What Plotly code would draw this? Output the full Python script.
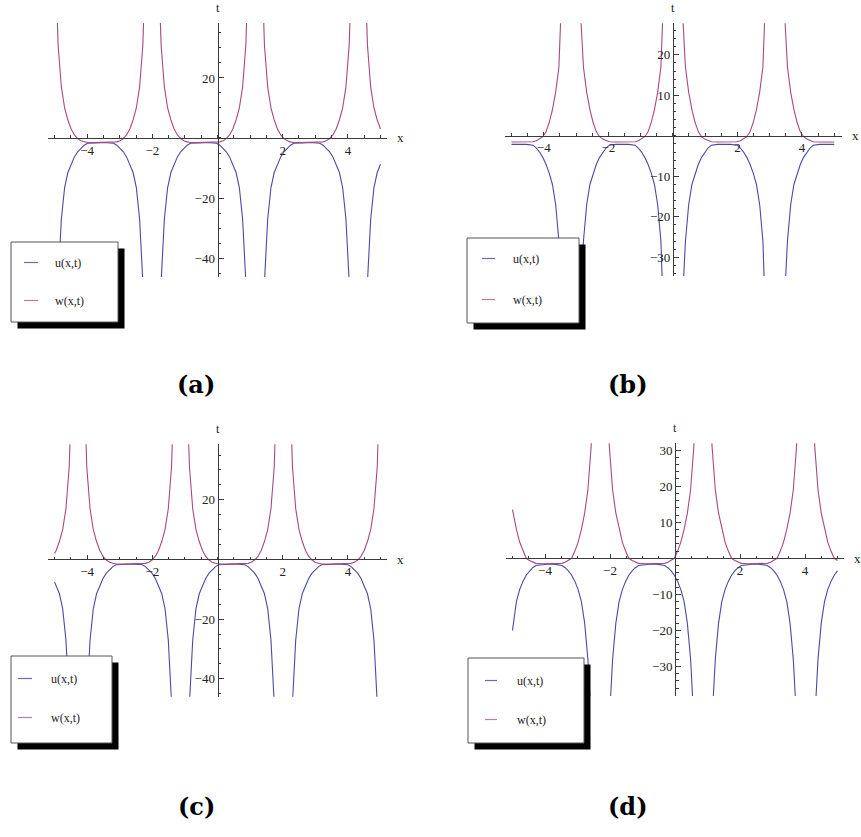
import plotly.graph_objects as go

W, H = 861, 837

# ---------------- values ----------------
# panel (a)
a_x = [-4.99, -4.89, -4.79, -4.69, -4.59, -4.49, -4.39, -4.29, -4.19, -4.09, -3.99, -3.79, -3.59,
       -3.39, -3.19, -3.09, -2.99, -2.89, -2.79, -2.69, -2.59, -2.49, -2.39, -2.29, -2.19,
       -1.83, -1.73, -1.63, -1.53, -1.43, -1.33, -1.23, -1.13, -1.03, -0.93, -0.83, -0.63, -0.43,
       -0.23, -0.03, 0.07, 0.17, 0.27, 0.37, 0.47, 0.57, 0.67, 0.77, 0.87, 0.97,
       1.34, 1.44, 1.54, 1.64, 1.74, 1.84, 1.94, 2.04, 2.14, 2.24, 2.34, 2.54, 2.74,
       2.94, 3.14, 3.24, 3.34, 3.44, 3.54, 3.64, 3.74, 3.84, 3.94, 4.04, 4.14,
       4.50, 4.60, 4.70, 4.80, 4.90, 5.00]
a_w = [65, 31, 17, 10, 6.0, 3.0, 1.0, -0.2, -0.9, -1.3, -1.5, -1.55, -1.55,
       -1.55, -1.5, -1.3, -0.9, -0.2, 1.0, 3.0, 6.0, 10, 17, 31, 65,
       65, 31, 17, 10, 6.0, 3.0, 1.0, -0.2, -0.9, -1.3, -1.5, -1.55, -1.55,
       -1.55, -1.5, -1.3, -0.9, -0.2, 1.0, 3.0, 6.0, 10, 17, 31, 65,
       65, 31, 17, 10, 6.0, 3.0, 1.0, -0.2, -0.9, -1.3, -1.5, -1.55, -1.55,
       -1.55, -1.5, -1.3, -0.9, -0.2, 1.0, 3.0, 6.0, 10, 17, 31, 65,
       65, 31, 17, 10, 6.0, 3.0]
a_u = [-85, -48, -27, -16.5, -11.5, -8.7, -6.3, -4.6, -3.4, -2.4, -1.75, -1.6, -1.6,
       -1.6, -1.75, -2.4, -3.4, -4.6, -6.3, -8.7, -11.5, -16.5, -27, -48, -85,
       -85, -48, -27, -16.5, -11.5, -8.7, -6.3, -4.6, -3.4, -2.4, -1.75, -1.6, -1.6,
       -1.6, -1.75, -2.4, -3.4, -4.6, -6.3, -8.7, -11.5, -16.5, -27, -48, -85,
       -85, -48, -27, -16.5, -11.5, -8.7, -6.3, -4.6, -3.4, -2.4, -1.75, -1.6, -1.6,
       -1.6, -1.75, -2.4, -3.4, -4.6, -6.3, -8.7, -11.5, -16.5, -27, -48, -85,
       -85, -48, -27, -16.5, -11.5, -8.7]

# panel (b)
b_x = [-5.00, -4.93, -4.73, -4.53, -4.33, -4.23, -4.13, -4.03, -3.93, -3.83, -3.73, -3.63, -3.53, -3.43, -3.33,
       -2.97, -2.87, -2.77, -2.67, -2.57, -2.47, -2.37, -2.27, -2.17, -2.07, -1.97, -1.77, -1.57,
       -1.37, -1.17, -1.07, -0.97, -0.87, -0.77, -0.67, -0.57, -0.47, -0.37, -0.27, -0.17,
       0.19, 0.29, 0.39, 0.49, 0.59, 0.69, 0.79, 0.89, 0.99, 1.09, 1.19, 1.39, 1.59,
       1.79, 1.99, 2.09, 2.19, 2.29, 2.39, 2.49, 2.59, 2.69, 2.79, 2.89, 2.99,
       3.35, 3.45, 3.55, 3.65, 3.75, 3.85, 3.95, 4.05, 4.15, 4.25, 4.35, 4.55, 4.75, 4.95, 5.00]
b_w = [-1.5, -1.5, -1.5, -1.5, -1.45, -1.2, -0.8, -0.2, 1.0, 3.3, 6.5, 10.8, 17, 32, 60,
       60, 32, 17, 10.8, 6.5, 3.3, 1.0, -0.2, -0.8, -1.2, -1.45, -1.5, -1.5,
       -1.5, -1.45, -1.2, -0.8, -0.2, 1.0, 3.3, 6.5, 10.8, 17, 32, 60,
       60, 32, 17, 10.8, 6.5, 3.3, 1.0, -0.2, -0.8, -1.2, -1.45, -1.5, -1.5,
       -1.5, -1.45, -1.2, -0.8, -0.2, 1.0, 3.3, 6.5, 10.8, 17, 32, 60,
       60, 32, 17, 10.8, 6.5, 3.3, 1.0, -0.2, -0.8, -1.2, -1.45, -1.5, -1.5, -1.5, -1.5]
b_u = [-2.1, -2.1, -2.1, -2.1, -2.3, -3.0, -4.0, -5.3, -7.0, -9.2, -12, -17, -26, -42, -75,
       -75, -42, -26, -17, -12, -9.2, -7.0, -5.3, -4.0, -3.0, -2.3, -2.1, -2.1,
       -2.1, -2.3, -3.0, -4.0, -5.3, -7.0, -9.2, -12, -17, -26, -42, -75,
       -75, -42, -26, -17, -12, -9.2, -7.0, -5.3, -4.0, -3.0, -2.3, -2.1, -2.1,
       -2.1, -2.3, -3.0, -4.0, -5.3, -7.0, -9.2, -12, -17, -26, -42, -75,
       -75, -42, -26, -17, -12, -9.2, -7.0, -5.3, -4.0, -3.0, -2.3, -2.1, -2.1, -2.1, -2.1]

# panel (c)
c_x = [-5.00, -4.95, -4.85, -4.75, -4.65, -4.55, -4.45,
       -4.11, -4.01, -3.91, -3.81, -3.71, -3.61, -3.51, -3.41, -3.31, -3.21, -3.11, -2.91, -2.71,
       -2.51, -2.31, -2.21, -2.11, -2.01, -1.91, -1.81, -1.71, -1.61, -1.51, -1.41, -1.31,
       -0.96, -0.86, -0.76, -0.66, -0.56, -0.46, -0.36, -0.26, -0.16, -0.06, 0.04, 0.24, 0.44,
       0.64, 0.84, 0.94, 1.04, 1.14, 1.24, 1.34, 1.44, 1.54, 1.64, 1.74, 1.84,
       2.20, 2.30, 2.40, 2.50, 2.60, 2.70, 2.80, 2.90, 3.00, 3.10, 3.20, 3.40, 3.60,
       3.80, 4.00, 4.10, 4.20, 4.30, 4.40, 4.50, 4.60, 4.70, 4.80, 4.90, 5.00]
c_w = [2.0, 3.0, 6.0, 10, 17, 31, 65,
       65, 31, 17, 10, 6.0, 3.0, 1.0, -0.2, -0.9, -1.3, -1.5, -1.55, -1.55,
       -1.55, -1.5, -1.3, -0.9, -0.2, 1.0, 3.0, 6.0, 10, 17, 31, 65,
       65, 31, 17, 10, 6.0, 3.0, 1.0, -0.2, -0.9, -1.3, -1.5, -1.55, -1.55,
       -1.55, -1.5, -1.3, -0.9, -0.2, 1.0, 3.0, 6.0, 10, 17, 31, 65,
       65, 31, 17, 10, 6.0, 3.0, 1.0, -0.2, -0.9, -1.3, -1.5, -1.55, -1.55,
       -1.55, -1.5, -1.3, -0.9, -0.2, 1.0, 3.0, 6.0, 10, 17, 31, 65]
c_u = [-7.5, -8.7, -11.5, -16.5, -27, -48, -85,
       -85, -48, -27, -16.5, -11.5, -8.7, -6.3, -4.6, -3.4, -2.4, -1.75, -1.6, -1.6,
       -1.6, -1.75, -2.4, -3.4, -4.6, -6.3, -8.7, -11.5, -16.5, -27, -48, -85,
       -85, -48, -27, -16.5, -11.5, -8.7, -6.3, -4.6, -3.4, -2.4, -1.75, -1.6, -1.6,
       -1.6, -1.75, -2.4, -3.4, -4.6, -6.3, -8.7, -11.5, -16.5, -27, -48, -85,
       -85, -48, -27, -16.5, -11.5, -8.7, -6.3, -4.6, -3.4, -2.4, -1.75, -1.6, -1.6,
       -1.6, -1.75, -2.4, -3.4, -4.6, -6.3, -8.7, -11.5, -16.5, -27, -48, -85]

# panel (d)
d_x = [-5.00, -4.88, -4.78, -4.68, -4.58, -4.48, -4.38, -4.28, -4.08, -3.88,
       -3.68, -3.48, -3.38, -3.28, -3.18, -3.08, -2.98, -2.88, -2.78, -2.68, -2.58, -2.48,
       -2.12, -2.02, -1.92, -1.82, -1.72, -1.62, -1.52, -1.42, -1.32, -1.22, -1.12, -0.92, -0.72,
       -0.52, -0.32, -0.22, -0.12, -0.02, 0.08, 0.18, 0.28, 0.38, 0.48, 0.58, 0.68,
       1.04, 1.14, 1.24, 1.34, 1.44, 1.54, 1.64, 1.74, 1.84, 1.94, 2.04, 2.24, 2.44,
       2.64, 2.84, 2.94, 3.04, 3.14, 3.24, 3.34, 3.44, 3.54, 3.64, 3.74, 3.84,
       4.20, 4.30, 4.40, 4.50, 4.60, 4.70, 4.80, 4.90, 5.00]
d_w = [13.5, 8.0, 4.5, 2.0, 0.0, -0.6, -1.1, -1.4, -1.5, -1.5,
       -1.5, -1.4, -1.1, -0.6, 0.0, 2.0, 4.5, 8.0, 12.5, 19, 31, 55,
       55, 31, 19, 12.5, 8.0, 4.5, 2.0, 0.0, -0.6, -1.1, -1.4, -1.5, -1.5,
       -1.5, -1.4, -1.1, -0.6, 0.0, 2.0, 4.5, 8.0, 12.5, 19, 31, 55,
       55, 31, 19, 12.5, 8.0, 4.5, 2.0, 0.0, -0.6, -1.1, -1.4, -1.5, -1.5,
       -1.5, -1.4, -1.1, -0.6, 0.0, 2.0, 4.5, 8.0, 12.5, 19, 31, 55,
       55, 31, 19, 12.5, 8.0, 4.5, 2.0, 0.0, -0.6]
d_u = [-20, -12, -8.7, -6.4, -4.7, -3.5, -2.6, -2.0, -1.7, -1.6,
       -1.7, -2.0, -2.6, -3.5, -4.7, -6.4, -8.7, -12, -18, -28, -45, -75,
       -75, -45, -28, -18, -12, -8.7, -6.4, -4.7, -3.5, -2.6, -2.0, -1.7, -1.6,
       -1.7, -2.0, -2.6, -3.5, -4.7, -6.4, -8.7, -12, -18, -28, -45, -75,
       -75, -45, -28, -18, -12, -8.7, -6.4, -4.7, -3.5, -2.6, -2.0, -1.7, -1.6,
       -1.7, -2.0, -2.6, -3.5, -4.7, -6.4, -8.7, -12, -18, -28, -45, -75,
       -75, -45, -28, -18, -12, -8.7, -6.4, -4.7, -3.5]

# tick labels
x_ticks = [-4, -2, 2, 4]
a_yticks = [-40, -20, 20]
b_yticks = [-30, -20, -10, 10, 20]
c_yticks = [-40, -20, 20]
d_yticks = [-30, -20, -10, 10, 20, 30]
series_names = ["u(x,t)", "w(x,t)"]
panel_labels = ["(a)", "(b)", "(c)", "(d)"]

# ---------------- styling / layout ----------------
U_COLOR = "#4a4aa6"
W_COLOR = "#a64a80"
U_LEG = "#6a6ab8"
W_LEG = "#c07aa2"
AX = "#3a3a3a"
SERIF = "Liberation Serif"

def fx(p):
    return p / W

def fy(p):
    return 1 - p / H

def minus(v):
    return str(v).replace("-", "\u2212")

# per panel: x domain px, x range, y domain px (top, bottom), y range, y ticks, y minor step
panels = [
    dict(x=a_x, u=a_u, w=a_w, xd=(48, 387), xr=[-5.2, 5.2], yd=(23, 277), yr=[-46.3, 38.3],
         yt=a_yticks, ym=5),
    dict(x=b_x, u=b_u, w=b_w, xd=(505, 842), xr=[-5.2, 5.24], yd=(23.3, 276), yr=[-34.6, 27.8],
         yt=b_yticks, ym=2),
    dict(x=c_x, u=c_u, w=c_w, xd=(48, 387), xr=[-5.2, 5.2], yd=(444.3, 696.7), yr=[-46, 38.6],
         yt=c_yticks, ym=5),
    dict(x=d_x, u=d_u, w=d_w, xd=(506, 844), xr=[-5.2, 5.2], yd=(443.3, 696), yr=[-38.2, 31.9],
         yt=d_yticks, ym=2),
]

# legend boxes: (x0, y0, x1, y1, line_x0, line_x1, u_y, w_y, text_x) in px
legend_boxes = [
    (11, 242, 118, 322, 24, 38, 262.5, 300.5, 53),
    (467, 238, 579, 323, 482, 495, 258.5, 299.5, 511),
    (11, 656, 112, 743, 18, 32, 678.5, 717.5, 49),
    (468, 658, 584, 743, 485, 497, 680.5, 719.5, 515),
]
panel_label_pos = [(196, 384), (628, 384), (196, 806), (628, 806)]

fig = go.Figure()
layout = dict(
    width=W, height=H, margin=dict(l=0, r=0, t=0, b=0),
    paper_bgcolor="white", plot_bgcolor="white", showlegend=False,
)
shapes = []
annotations = []

for i, p in enumerate(panels):
    k = "" if i == 0 else str(i + 1)
    xdom = [fx(p["xd"][0]), fx(p["xd"][1])]
    ydom = [fy(p["yd"][1]), fy(p["yd"][0])]
    xr, yr = p["xr"], p["yr"]
    xpos = ydom[0] + (0 - yr[0]) / (yr[1] - yr[0]) * (ydom[1] - ydom[0])
    ypos = xdom[0] + (0 - xr[0]) / (xr[1] - xr[0]) * (xdom[1] - xdom[0])

    fig.add_trace(go.Scatter(x=p["x"], y=p["u"], mode="lines", name=series_names[0],
                             line=dict(color=U_COLOR, width=1.1), xaxis="x" + k, yaxis="y" + k,
                             hoverinfo="skip"))
    fig.add_trace(go.Scatter(x=p["x"], y=p["w"], mode="lines", name=series_names[1],
                             line=dict(color=W_COLOR, width=1.1), xaxis="x" + k, yaxis="y" + k,
                             hoverinfo="skip"))

    layout["xaxis" + k] = dict(
        domain=xdom, range=xr, anchor="free", position=xpos,
        showline=True, linecolor=AX, linewidth=1, showgrid=False, zeroline=False,
        ticks="inside", ticklen=4, tickwidth=1, tickcolor=AX,
        tickmode="array", tickvals=x_ticks, ticktext=[minus(v) for v in x_ticks],
        tickfont=dict(family=SERIF, size=13, color="#222"),
        minor=dict(tickmode="linear", tick0=0, dtick=0.5, ticks="inside", ticklen=2.5,
                   tickcolor=AX, showgrid=False),
        fixedrange=True,
    )
    layout["yaxis" + k] = dict(
        domain=ydom, range=yr, anchor="free", position=ypos,
        showline=True, linecolor=AX, linewidth=1, showgrid=False, zeroline=False,
        ticks="inside", ticklen=5, tickwidth=1, tickcolor=AX,
        tickmode="array", tickvals=p["yt"], ticktext=[minus(v) for v in p["yt"]],
        tickfont=dict(family=SERIF, size=13, color="#222"),
        minor=dict(tickmode="linear", tick0=0, dtick=p["ym"], ticks="inside", ticklen=2.5,
                   tickcolor=AX, showgrid=False),
        fixedrange=True,
    )

    # axis names
    annotations.append(dict(text="t", x=ypos, y=ydom[1], xref="paper", yref="paper",
                            xanchor="center", yanchor="bottom", yshift=6, showarrow=False,
                            font=dict(family=SERIF, size=12, color="#222")))
    annotations.append(dict(text="x", x=xdom[1], y=xpos, xref="paper", yref="paper",
                            xanchor="left", yanchor="middle", xshift=8, showarrow=False,
                            font=dict(family=SERIF, size=13, color="#222")))

    # legend box with drop shadow
    x0, y0, x1, y1, lx0, lx1, uy, wy, tx = legend_boxes[i]
    sh = 6.5
    shapes.append(dict(type="rect", xref="paper", yref="paper", layer="above",
                       x0=fx(x0 + sh), x1=fx(x1 + sh), y0=fy(y1 + sh), y1=fy(y0 + sh),
                       fillcolor="black", line=dict(width=0)))
    shapes.append(dict(type="rect", xref="paper", yref="paper", layer="above",
                       x0=fx(x0), x1=fx(x1), y0=fy(y1), y1=fy(y0),
                       fillcolor="white", line=dict(color="#555", width=1)))
    for yy, col, name in ((uy, U_LEG, series_names[0]), (wy, W_LEG, series_names[1])):
        shapes.append(dict(type="line", xref="paper", yref="paper", layer="above",
                           x0=fx(lx0), x1=fx(lx1), y0=fy(yy), y1=fy(yy),
                           line=dict(color=col, width=1.2)))
        annotations.append(dict(text=name, x=fx(tx), y=fy(yy), xref="paper", yref="paper",
                                xanchor="left", yanchor="middle", showarrow=False,
                                font=dict(family=SERIF, size=12, color="#222")))

    lx, ly = panel_label_pos[i]
    annotations.append(dict(text="<b>" + panel_labels[i] + "</b>", x=fx(lx), y=fy(ly),
                            xref="paper", yref="paper", xanchor="center", yanchor="middle",
                            showarrow=False,
                            font=dict(family="DejaVu Serif", size=24, color="black")))

layout["shapes"] = shapes
layout["annotations"] = annotations
fig.update_layout(**layout)
fig.write_html("out.html")
